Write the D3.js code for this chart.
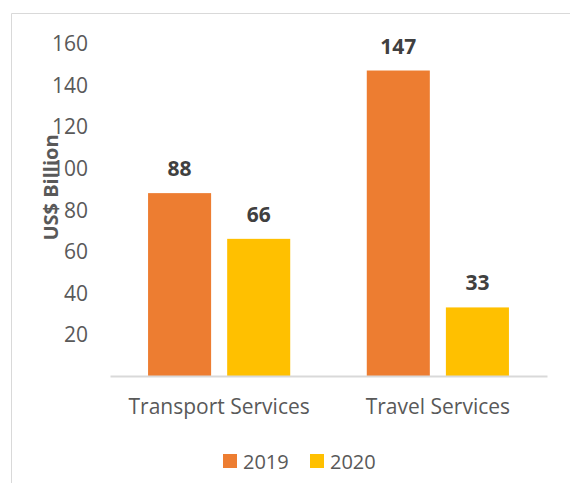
<!DOCTYPE html>
<html>
<head>
<meta charset="utf-8">
<script src="https://cdn.jsdelivr.net/npm/d3@7"></script>
<style>
  body { margin: 0; background: #fff; }
  text { font-family: "Open Sans", "Liberation Sans", sans-serif; }
</style>
</head>
<body>
<div class="chart"></div>
<script>
// data
const categories = ["Transport Services", "Travel Services"];
const years = ["2019", "2020"];
const values2019 = [88, 147];
const values2020 = [66, 33];
const yTicks = [20, 40, 60, 80, 100, 120, 140, 160];
const colors = ["#ED7D31", "#FFC000"];

const rows = categories.map((c, i) => ({cat: c, vals: [values2019[i], values2020[i]]}));

const outerWidth = 570;
const outerHeight = 483;

const svg = d3.select(".chart")
    .append("svg")
    .attr("width", outerWidth)
    .attr("height", outerHeight);

// chart frame (cut off at right and bottom)
svg.append("path")
    .attr("d", "M11.5,483 L11.5,13.5 L570,13.5")
    .attr("fill", "none")
    .attr("stroke", "#D9D9D9")
    .attr("stroke-width", 1);

const x0 = d3.scaleBand()
    .domain(categories)
    .range([110, 547])
    .paddingInner(0.35)
    .paddingOuter(0.174);

const x1 = d3.scaleBand()
    .domain(years)
    .range([0, x0.bandwidth()])
    .paddingInner(0.203);

const y = d3.scaleLinear()
    .domain([0, 160])
    .range([376, 43.5]);

// y axis labels only
const yAxis = d3.axisLeft(y).tickValues(yTicks).tickSize(0).tickPadding(0);
const gy = svg.append("g")
    .attr("transform", "translate(88,0)")
    .call(yAxis);
gy.select(".domain").remove();
gy.selectAll("text")
    .attr("fill", "#595959")
    .style("font-size", "21px")
    .attr("dy", "0.35em");

// bars
const groups = svg.selectAll(".grp")
    .data(rows)
    .join("g")
    .attr("class", "grp")
    .attr("transform", d => `translate(${x0(d.cat)},0)`);

groups.selectAll("rect")
    .data(d => d.vals.map((v, j) => ({year: years[j], v: v, j: j})))
    .join("rect")
    .attr("x", d => x1(d.year))
    .attr("y", d => y(d.v))
    .attr("width", x1.bandwidth())
    .attr("height", d => y(0) - y(d.v))
    .attr("fill", d => colors[d.j]);

groups.selectAll(".lbl")
    .data(d => d.vals.map((v, j) => ({year: years[j], v: v})))
    .join("text")
    .attr("class", "lbl")
    .attr("x", d => x1(d.year) + x1.bandwidth() / 2)
    .attr("y", d => y(d.v) - 17)
    .attr("text-anchor", "middle")
    .attr("fill", "#404040")
    .style("font-size", "21px")
    .style("font-weight", "bold")
    .text(d => d.v);

// x axis
const xAxis = d3.axisBottom(x0).tickSize(0).tickPadding(0);
const gx = svg.append("g")
    .attr("transform", `translate(0,${y(0)})`)
    .call(xAxis);
gx.select(".domain")
    .attr("stroke", "#D9D9D9")
    .attr("stroke-width", 2);
gx.selectAll("text")
    .attr("fill", "#595959")
    .style("font-size", "21px")
    .attr("dy", "0")
    .attr("y", 38);

// y axis title
svg.append("text")
    .attr("transform", "translate(58,187.5) rotate(-90)")
    .attr("text-anchor", "middle")
    .attr("fill", "#595959")
    .style("font-size", "20px")
    .style("font-weight", "bold")
    .text("US$ Billion");

// legend
const legend = svg.append("g");
const legX = [223, 310];
years.forEach((yr, i) => {
    legend.append("rect")
        .attr("x", legX[i])
        .attr("y", 454)
        .attr("width", 14)
        .attr("height", 14)
        .attr("fill", colors[i]);
    legend.append("text")
        .attr("x", legX[i] + 20)
        .attr("y", 469)
        .attr("fill", "#595959")
        .style("font-size", "20px")
        .text(yr);
});
</script>
</body>
</html>
